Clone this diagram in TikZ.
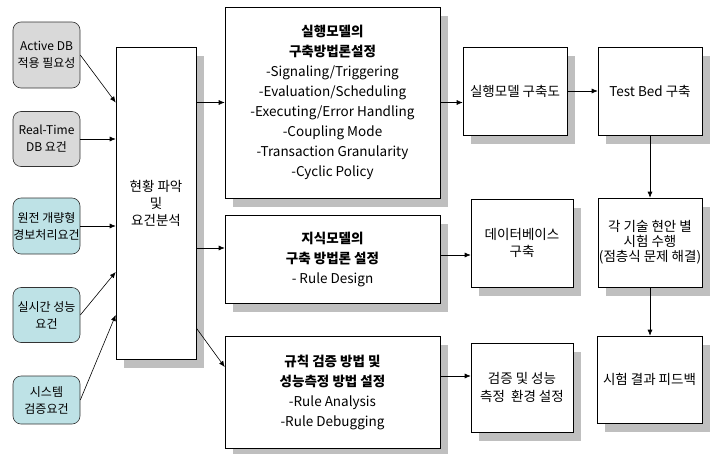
\documentclass[tikz,border=0pt]{standalone}
\usepackage{fontspec}
\setmainfont{Noto Sans CJK KR}
\usetikzlibrary{arrows.meta,shadows}
\definecolor{needgray}{RGB}{217,217,217}
\definecolor{needteal}{RGB}{190,226,230}
\definecolor{shadowgray}{RGB}{191,191,191}

\begin{document}
\begin{tikzpicture}[x=1pt, y=-1pt, line width=0.6pt,
  need/.style={draw=black!80, rounded corners=8pt, minimum width=67pt, align=center,
    inner xsep=-4pt, inner ysep=0pt, font=\fontsize{12}{17}\selectfont},
  stepbox/.style={draw, fill=white, align=center, inner xsep=-5pt, inner ysep=0pt,
    general shadow={fill=shadowgray, shadow xshift=8pt, shadow yshift=-9pt},
    font=\fontsize{13.5}{20}\selectfont},
  arr/.style={-{Latex[length=6pt,width=5pt]}}]

\useasboundingbox (0,0) rectangle (719,453);

% requirements
\node[need, fill=needgray, minimum height=66pt] (act) at (46.5,55) {Active DB\\적용 필요성};
\node[need, fill=needgray, minimum height=55pt] (rt) at (46.5,139) {Real-Time\\DB 요건};
\node[need, fill=needteal, minimum height=56pt] (npp) at (46.5,226) {원전 개량형\\경보처리요건};
\node[need, fill=needteal, minimum height=55pt] (perf) at (46.5,315) {실시간 성능\\요건};
\node[need, fill=needteal, minimum height=48pt] (sys) at (46.5,400) {시스템\\검증요건};

% analysis
\node[stepbox, minimum width=80pt, minimum height=312pt, font=\fontsize{13.5}{17}\selectfont] (req) at (156,203) {현황 파악\\및\\요건분석};

% methodology
\node[stepbox, minimum width=215pt, minimum height=191pt] (exec) at (332.5,102.5)
  {\textbf{실행모델의}\\\textbf{구축방법론설정}\\-Signaling/Triggering\\-Evaluation/Scheduling\\-Executing/Error Handling\\-Coupling Mode\\-Transaction Granularity\\-Cyclic Policy};
\node[stepbox, minimum width=215pt, minimum height=88pt] (know) at (332.5,259)
  {\textbf{지식모델의}\\\textbf{구축 방법론 설정}\\- Rule Design};
\node[stepbox, minimum width=215pt, minimum height=112pt] (rule) at (332.5,392)
  {\textbf{규칙 검증 방법 및}\\\textbf{성능측정 방법 설정}\\-Rule Analysis\\-Rule Debugging};

% construction and tests
\node[stepbox, minimum width=104pt, minimum height=88pt] (execd) at (515,91) {실행모델 구축도};
\node[stepbox, minimum width=104pt, minimum height=88pt] (tbed) at (650,91) {Test Bed 구축};
\node[stepbox, minimum width=102pt, minimum height=88pt, font=\fontsize{13.5}{17}\selectfont] (dbb) at (522,243) {데이터베이스\\구축};
\node[stepbox, minimum width=104pt, minimum height=89pt, font=\fontsize{13.5}{15}\selectfont] (test) at (650,242.5) {각 기술 현안 별\\시험 수행\\(점층식 문제 해결)};
\node[stepbox, minimum width=102pt, minimum height=89pt, font=\fontsize{13.5}{18}\selectfont] (env) at (522,387.5) {검증 및 성능\\측정~~환경 설정};
\node[stepbox, minimum width=105pt, minimum height=87pt] (fdbk) at (649.5,379.5) {시험 결과 피드백};

% connectors
\draw[arr] (act.east) -- (req.west |- exec.west);
\draw[arr] (rt) -- (rt -| req.west);
\draw[arr] (npp) -- (npp -| req.west);
\draw[arr] (perf.east) -- ([yshift=-69pt]req.west);
\draw[arr] (sys.east) -- ([yshift=-112pt]req.west);

\draw[arr] (req.east |- exec.west) -- (exec.west);
\draw[arr] ([yshift=-45pt]req.east) -- ([yshift=11pt]know.west);
\draw[arr] ([yshift=-125pt]req.east) -- ([yshift=25pt]rule.west);

\draw[arr] (exec) -- (exec -| execd.west);
\draw[arr] (execd) -- (tbed);
\draw[arr] ([yshift=4pt]know.east) -- ([yshift=-12pt]dbb.west);
\draw[arr] ([yshift=16pt]rule.east) -- ([yshift=11.5pt]env.west);
\draw[arr] (tbed) -- (test);
\draw[arr] (test.south) -- (test.south |- fdbk.north);
\end{tikzpicture}
\end{document}
